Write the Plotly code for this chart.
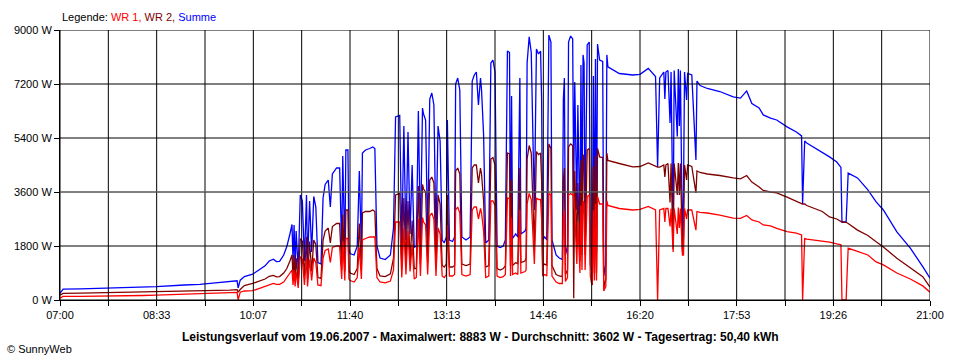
import plotly.graph_objects as go

# ---------------- data ----------------
times = [
    "07:00", "07:03", "07:20", "07:39", "08:00", "08:20", "08:33", "09:00", "09:15", "09:30",
    "09:44", "09:51", "09:52", "09:54", "09:58", "10:06", "10:12", "10:18", "10:22", "10:26",
    "10:29", "10:32", "10:36", "10:39", "10:42", "10:44", "10:45", "10:46", "10:47", "10:48",
    "10:50", "10:52", "10:54", "10:56", "10:58", "10:59", "11:01", "11:03", "11:05", "11:07",
    "11:09", "11:12", "11:14", "11:16", "11:19", "11:21", "11:23", "11:27", "11:30", "11:32",
    "11:33", "11:35", "11:36", "11:38", "11:39", "11:40", "11:44", "11:47", "11:49", "11:51",
    "11:52", "11:55", "11:59", "12:02", "12:04", "12:06", "12:09", "12:14", "12:19", "12:22",
    "12:24", "12:28", "12:30", "12:32", "12:34", "12:36", "12:38", "12:40", "12:42", "12:44",
    "12:46", "12:48", "12:50", "12:51", "12:53", "12:55", "12:57", "12:59", "13:01", "13:03",
    "13:05", "13:07", "13:09", "13:11", "13:13", "13:14", "13:16", "13:19", "13:21", "13:22",
    "13:24", "13:26", "13:28", "13:32", "13:36", "13:38", "13:40", "13:42", "13:44", "13:46",
    "13:47", "13:49", "13:51", "13:54", "13:56", "13:58", "14:00", "14:02", "14:05", "14:08",
    "14:10", "14:12", "14:14", "14:15", "14:16", "14:17", "14:20", "14:22", "14:24", "14:25",
    "14:29", "14:30", "14:31", "14:33", "14:35", "14:38", "14:40", "14:42", "14:44", "14:45",
    "14:46", "14:48", "14:50", "14:52", "14:54", "14:55", "14:59", "15:02", "15:05", "15:06",
    "15:07", "15:08", "15:10", "15:11", "15:13", "15:15", "15:16", "15:17", "15:19", "15:20",
    "15:22", "15:23", "15:24", "15:25", "15:26", "15:27", "15:29", "15:31", "15:32", "15:33",
    "15:34", "15:35", "15:36", "15:37", "15:38", "15:39", "15:41", "15:44", "15:45", "15:47",
    "15:48", "15:49", "15:53", "16:00", "16:13", "16:20", "16:28", "16:35", "16:37", "16:39",
    "16:43", "16:44", "16:45", "16:47", "16:49", "16:50", "16:52", "16:53", "16:56", "16:57",
    "16:58", "16:59", "17:01", "17:02", "17:03", "17:05", "17:06", "17:10", "17:14", "17:15",
    "17:18", "17:25", "17:37", "17:50", "17:57", "18:03", "18:08", "18:15", "18:19", "18:26",
    "18:32", "18:42", "18:51", "18:56", "18:57", "18:59", "19:01", "19:16", "19:23", "19:30",
    "19:34", "19:35", "19:39", "19:40", "19:41", "19:50", "20:00", "20:08", "20:15", "20:28",
    "20:41", "20:53", "21:00",
]

summe = [
    220, 360, 370, 385, 410, 430, 445, 500, 520, 570,
    610, 640, 400, 660, 780, 860, 1000, 1140, 1300, 1360,
    1280, 1290, 1500, 1780, 2200, 2520, 1300, 2500, 1100, 2300,
    1000, 3500, 3300, 1300, 3500, 1200, 3300, 1600, 3450, 3100,
    1250, 1200, 3400, 3850, 4000, 3100, 4200, 4400, 4400, 1700,
    4800, 1600, 5000, 5000, 1700, 1550, 1500, 1800, 4300, 1700,
    4900, 5000, 5050, 5100, 5050, 1800, 1400, 1350, 1500, 2400,
    6100, 6150, 1800, 5800, 2000, 5600, 2200, 4500, 1750, 1800,
    6300, 2000, 6400, 6200, 6000, 2100, 6700, 6900, 6500, 2000,
    5800, 5300, 2000, 1900, 2100, 6000, 2000, 1950, 2100, 7200,
    7400, 7000, 2100, 2000, 2100, 7300, 7500, 7600, 6500, 7400,
    7000, 5500, 1900, 2000, 7900, 8000, 7600, 1800, 1750, 1800,
    2000, 8300, 8250, 2000, 6800, 2050, 2200, 2100, 7400, 2200,
    2300, 2400, 7900, 8770, 8250, 3000, 8370, 8200, 8300, 6700,
    2000, 2100, 2000, 8830, 8600, 2000, 1500, 1400, 1350, 6700,
    7400, 1500, 1800, 8600, 8800, 8700, 3600, 7270, 3000, 6500,
    2200, 7830, 2500, 8170, 7900, 2500, 8500, 8600, 2000, 1500,
    1300, 7470, 1600, 8030, 1600, 8530, 8000, 7950, 800, 1200,
    8170, 7770, 7700, 7550, 7500, 7520, 7720, 7450, 4430, 7400,
    7600, 6700, 7600, 7650, 5900, 7600, 2000, 7650, 5450, 7700,
    5800, 7650, 1700, 3600, 7600, 6670, 7550, 7500, 4670, 7300,
    7150, 7050, 6950, 6770, 6730, 6970, 6550, 6400, 6170, 6060,
    6000, 5770, 5600, 5470, 3200, 5300, 5230, 4930, 4770, 4600,
    4420, 2600, 2600, 3400, 4230, 4070, 3670, 3270, 3000, 2270,
    1730, 1110, 730,
]

wr2 = [
    160, 220, 230, 240, 260, 270, 280, 295, 300, 315,
    330, 345, 260, 350, 480, 550, 620, 700, 790, 820,
    770, 780, 900, 1050, 1300, 1500, 800, 1500, 650, 1400,
    600, 2050, 1950, 800, 2100, 700, 1950, 950, 2000, 1850,
    750, 720, 2000, 2300, 2400, 1900, 2450, 2550, 2550, 1000,
    2850, 950, 3000, 3000, 1000, 900, 850, 1050, 2550, 1000,
    2900, 2950, 2950, 3000, 2950, 1050, 800, 780, 870, 1400,
    3500, 3550, 1050, 3400, 1150, 3300, 1250, 2650, 1050, 1050,
    3800, 1200, 3850, 3700, 3600, 1250, 4000, 4100, 3900, 1150,
    3500, 3200, 1150, 1100, 1200, 3500, 1100, 1100, 1150, 4300,
    4400, 4200, 1200, 1150, 1200, 4400, 4500, 4500, 3900, 4400,
    4200, 3300, 1100, 1150, 4700, 4750, 4500, 1050, 1000, 1050,
    1150, 4900, 4870, 1150, 4000, 1150, 1250, 1200, 4400, 1250,
    1300, 1400, 4700, 5150, 4900, 1800, 4950, 4850, 4900, 4000,
    1150, 1200, 1150, 5200, 5050, 1150, 850, 800, 780, 4000,
    4400, 850, 1000, 5100, 5200, 5150, 60, 4300, 1800, 3900,
    1300, 4650, 1500, 4850, 4700, 1500, 5000, 5050, 1200, 850,
    750, 4450, 900, 4800, 900, 5050, 4770, 4750, 400, 700,
    4900, 4650, 4620, 4550, 4440, 4450, 4570, 4450, 4430, 4430,
    4500, 4100, 4500, 4550, 3250, 4550, 1700, 4550, 3500, 4570,
    3500, 4550, 1600, 2100, 4500, 4000, 4500, 4450, 3570, 4300,
    4250, 4200, 4150, 4070, 4040, 4150, 3930, 3770, 3650, 3600,
    3570, 3430, 3300, 3230, 3200, 3200, 3150, 2950, 2770, 2700,
    2620, 2600, 2590, 2560, 2550, 2330, 2150, 1940, 1770, 1390,
    1060, 780, 430,
]

wr1 = [
    60, 120, 120, 125, 140, 150, 165, 190, 200, 220,
    240, 255, 0, 260, 300, 310, 380, 450, 520, 550,
    520, 520, 600, 730, 900, 1000, 500, 1000, 450, 950,
    400, 1450, 1350, 500, 1400, 450, 1350, 650, 1400, 1250,
    500, 480, 1400, 1650, 1700, 1250, 1750, 1800, 1800, 700,
    1950, 650, 2050, 2050, 700, 650, 600, 750, 1750, 700,
    2000, 2050, 2100, 2100, 2100, 750, 600, 570, 630, 1000,
    2600, 2600, 750, 2400, 850, 2300, 950, 1850, 700, 750,
    2700, 800, 2750, 2600, 2500, 850, 2800, 2900, 2700, 800,
    2400, 2200, 800, 750, 850, 2500, 800, 800, 850, 3000,
    3100, 2900, 850, 800, 850, 3000, 3100, 3100, 2700, 3050,
    2900, 2300, 750, 800, 3300, 3300, 3150, 800, 750, 780,
    850, 3400, 3380, 800, 2750, 850, 900, 850, 3000, 900,
    950, 1000, 3200, 3550, 3350, 1200, 3400, 3350, 3350, 2700,
    800, 850, 800, 3550, 3500, 800, 600, 550, 550, 2700,
    3000, 620, 750, 3500, 3550, 3500, 3500, 2950, 1200, 2600,
    900, 3150, 1000, 3300, 3200, 1000, 3450, 3500, 800, 600,
    500, 3000, 650, 3200, 650, 3450, 3200, 3200, 300, 450,
    3300, 3150, 3120, 3050, 3000, 3020, 3120, 3000, 0, 3000,
    3050, 2600, 3050, 3050, 2450, 3050, 1600, 3050, 2200, 3080,
    2400, 3050, 1500, 1500, 3050, 2700, 3000, 3000, 2330, 2950,
    2920, 2900, 2830, 2730, 2720, 2820, 2670, 2600, 2500, 2470,
    2390, 2280, 2230, 2170, 0, 2050, 2030, 1960, 1930, 1870,
    1840, 0, 0, 900, 1730, 1620, 1500, 1270, 1170, 900,
    700, 470, 260,
]

average_w = 3602
y_ticks = [0, 1800, 3600, 5400, 7200, 9000]
x_tick_labels = ["07:00", "08:33", "10:07", "11:40", "13:13",
                 "14:46", "16:20", "17:53", "19:26", "21:00"]
title_text = ("Leistungsverlauf vom 19.06.2007 - Maximalwert: 8883 W - "
              "Durchschnitt: 3602 W - Tagesertrag: 50,40 kWh")

# ---------------- build figure ----------------
assert len(times) == len(summe) == len(wr2) == len(wr1)


def to_min(s):
    h, m = s.split(":")
    return (int(h) - 7) * 60 + int(m)


x = [to_min(t) for t in times]
span = to_min("21:00")
n_grid = 2 * (len(x_tick_labels) - 1)
grid_x = [span * i / n_grid for i in range(n_grid + 1)]
tick_text = [x_tick_labels[i // 2] if i % 2 == 0 else "" for i in range(n_grid + 1)]

fig = go.Figure()
for name, vals, color in [("Summe", summe, "#0000FF"),
                          ("WR 2", wr2, "#800000"),
                          ("WR 1", wr1, "#FF0000")]:
    fig.add_trace(go.Scatter(x=x, y=vals, mode="lines", name=name,
                             line=dict(color=color, width=1.3),
                             hoverinfo="skip"))

shapes = []
for gx in grid_x:
    shapes.append(dict(type="line", xref="x", yref="paper", x0=gx, x1=gx,
                       y0=0, y1=1, layer="above",
                       line=dict(color="black", width=1)))
for gy in y_ticks:
    shapes.append(dict(type="line", xref="paper", yref="y", x0=0, x1=1,
                       y0=gy, y1=gy, layer="above",
                       line=dict(color="black", width=1)))
shapes.append(dict(type="line", xref="paper", yref="y", x0=0, x1=1,
                   y0=average_w, y1=average_w, layer="above",
                   line=dict(color="#808080", width=1)))

font_family = "Liberation Sans, Arial, sans-serif"
fig.update_layout(
    width=960, height=360,
    margin=dict(l=60, r=30, t=30, b=60),
    paper_bgcolor="white", plot_bgcolor="white",
    showlegend=False,
    font=dict(family=font_family, size=11, color="black"),
    shapes=shapes,
    annotations=[
        dict(xref="paper", yref="paper", x=0, y=1.049, xanchor="left",
             yanchor="middle", showarrow=False,
             text=("Legende: <span style='color:#FF0000'>WR 1,</span> "
                   "<span style='color:#800000'>WR 2,</span> "
                   "<span style='color:#0000FF'>Summe</span>"),
             font=dict(size=11, color="black")),
        dict(xref="paper", yref="paper", x=0.4828, y=-0.137, xanchor="center",
             yanchor="middle", showarrow=False,
             text="<b>" + title_text + "</b>",
             font=dict(size=12, color="black")),
        dict(xref="paper", yref="paper", x=-0.063, y=-0.181, xanchor="left",
             yanchor="middle", showarrow=False,
             text="© SunnyWeb",
             font=dict(size=11, color="black")),
    ],
)
fig.update_xaxes(range=[0, span], tickmode="array", tickvals=grid_x,
                 ticktext=tick_text, ticks="outside", ticklen=5,
                 tickcolor="black", tickwidth=1, showgrid=False,
                 zeroline=False, showline=True, linecolor="black",
                 linewidth=1, fixedrange=True)
fig.update_yaxes(range=[0, 9000], tickmode="array", tickvals=y_ticks,
                 ticktext=[f"{v} W" for v in y_ticks], ticks="outside",
                 ticklen=5, tickcolor="black", tickwidth=1, showgrid=False,
                 zeroline=False, showline=True, linecolor="black",
                 linewidth=1, fixedrange=True)

fig.write_html("out.html",
               config={"displayModeBar": False},
               post_script="document.body.style.margin='0px';"
                           "document.body.style.overflow='hidden';")
